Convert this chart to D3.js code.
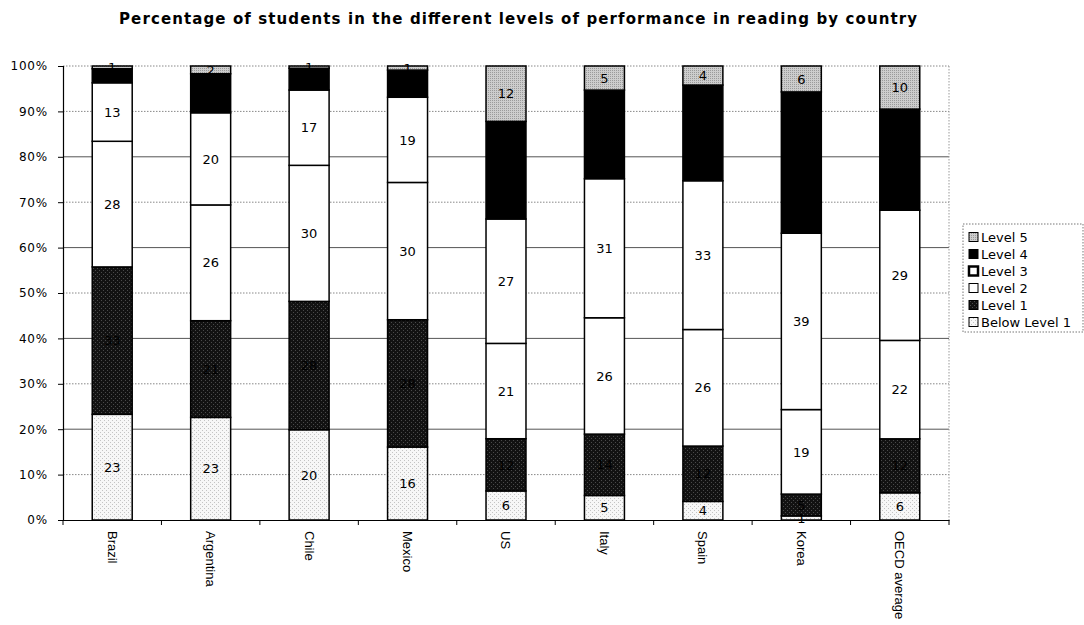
<!DOCTYPE html>
<html>
<head>
<meta charset="utf-8">
<script src="https://cdn.jsdelivr.net/npm/d3@7/dist/d3.min.js"></script>
<style>
  html, body { margin: 0; padding: 0; background: #fff; }
  svg { display: block; }
</style>
</head>
<body>
<svg id="chart" width="1084" height="625"></svg>
<script>
// Reading proficiency distribution (% of students per level)
const countries = ["Brazil", "Argentina", "Chile", "Mexico", "US", "Italy", "Spain", "Korea", "OECD average"];
const levels = ["Below Level 1", "Level 1", "Level 2", "Level 3", "Level 4", "Level 5"];
const belowLevel1 = [23.3, 22.6, 19.9, 16.1, 6.4, 5.4, 4.1, 0.9, 6.0];
const level1      = [32.5, 21.3, 28.3, 28.1, 11.5, 13.5, 12.2, 4.8, 11.9];
const level2      = [27.7, 25.5, 30.0, 30.3, 21.0, 25.6, 25.7, 18.6, 21.7];
const level3      = [12.9, 20.3, 16.6, 18.8, 27.4, 30.6, 32.8, 38.8, 28.7];
const level4      = [3.1, 8.6, 4.8, 6.0, 21.5, 19.5, 21.1, 31.1, 22.3];
const level5      = [0.6, 1.7, 0.5, 0.9, 12.2, 5.3, 4.2, 5.7, 9.5];
const yTicks = [0, 0.1, 0.2, 0.3, 0.4, 0.5, 0.6, 0.7, 0.8, 0.9, 1];
const title = "Percentage of students in the different levels of performance in reading by country";
// Black labels on the solid black Level 4 fill would not show, so they are left out
const labelledLevels = ["Below Level 1", "Level 1", "Level 2", "Level 3", "Level 5"];

const seriesValues = [belowLevel1, level1, level2, level3, level4, level5];
const table = countries.map((c, i) => {
  const row = { country: c };
  levels.forEach((l, j) => { row[l] = seriesValues[j][i]; });
  return row;
});

const svg = d3.select("#chart");
const defs = svg.append("defs");

// Stippled fills
function stipple(id, bg, dot, cells) {
  const p = defs.append("pattern").attr("id", id).attr("patternUnits", "userSpaceOnUse")
    .attr("width", 4).attr("height", 4);
  p.append("rect").attr("width", 4).attr("height", 4).attr("fill", bg);
  cells.forEach(([x, y]) => p.append("rect").attr("x", x).attr("y", y).attr("width", 1).attr("height", 1).attr("fill", dot));
}
stipple("patBelow", "#f7f7f7", "#c4c4c4", [[0, 0], [2, 2]]);
stipple("patL1", "#121212", "#4a4a4a", [[1, 0], [3, 2]]);
stipple("patL5", "#cdcdcd", "#9a9a9a", [[0, 0], [2, 2], [2, 0], [0, 2]]);

const fills = {
  "Below Level 1": "url(#patBelow)",
  "Level 1": "url(#patL1)",
  "Level 2": "#ffffff",
  "Level 3": "#ffffff",
  "Level 4": "#000000",
  "Level 5": "url(#patL5)"
};

const plot = { left: 63, right: 949, top: 66, bottom: 520 };

const x = d3.scaleBand().domain(countries).range([plot.left, plot.right])
  .paddingInner(0.594).paddingOuter(0.297);
const y = d3.scaleLinear().domain([0, 1]).range([plot.bottom, plot.top]);

// Title
svg.append("text")
  .attr("x", 518).attr("y", 24)
  .attr("text-anchor", "middle")
  .attr("font-family", "DejaVu Sans, sans-serif")
  .attr("font-weight", "bold")
  .attr("font-size", 15)
  .attr("textLength", 798)
  .attr("lengthAdjust", "spacing")
  .text(title);

// Gridlines
const grid = svg.append("g");
yTicks.filter(t => t > 0).forEach(t => {
  const solid = Math.round(t * 100) % 20 === 0 && t < 1;
  grid.append("line")
    .attr("x1", plot.left).attr("x2", plot.right)
    .attr("y1", y(t)).attr("y2", y(t))
    .attr("stroke", solid ? "#555" : "#888")
    .attr("stroke-width", 1)
    .attr("stroke-dasharray", solid ? null : "1.5,1.5");
});
grid.append("line")
  .attr("x1", plot.right).attr("x2", plot.right)
  .attr("y1", plot.top).attr("y2", plot.bottom)
  .attr("stroke", "#999").attr("stroke-dasharray", "1.5,1.5");

// Stacked bars
const stack = d3.stack().keys(levels).offset(d3.stackOffsetExpand);
const series = stack(table);

const fmt = d3.format(".0f");
const barG = svg.append("g");
series.forEach(s => {
  const g = barG.append("g");
  g.selectAll("rect").data(s).join("rect")
    .attr("x", d => x(d.data.country))
    .attr("y", d => y(d[1]))
    .attr("width", x.bandwidth())
    .attr("height", d => y(d[0]) - y(d[1]))
    .attr("fill", fills[s.key])
    .attr("stroke", "#000")
    .attr("stroke-width", 1.5);
});
series.filter(s => labelledLevels.includes(s.key)).forEach(s => {
  barG.append("g").selectAll("text").data(s).join("text")
    .attr("x", d => x(d.data.country) + x.bandwidth() / 2)
    .attr("y", d => (y(d[0]) + y(d[1])) / 2)
    .attr("dy", "0.36em")
    .attr("text-anchor", "middle")
    .attr("font-family", "DejaVu Sans, sans-serif")
    .attr("font-size", 13)
    .attr("fill", "#000")
    .text(d => fmt(d.data[s.key]));
});

// Y axis
const yAxis = svg.append("g").attr("transform", `translate(${plot.left},0)`)
  .call(d3.axisLeft(y).tickValues(yTicks).tickFormat(d3.format(".0%")).tickSize(5).tickPadding(10));
yAxis.select(".domain").attr("stroke", "#000").attr("stroke-width", 1.2);
yAxis.selectAll(".tick line").attr("stroke", "#000");
yAxis.selectAll("text")
  .attr("font-family", "DejaVu Sans, sans-serif")
  .attr("font-size", 12)
  .attr("letter-spacing", 0.8)
  .attr("fill", "#000");

// X axis
const xAxis = svg.append("g").attr("transform", `translate(0,${plot.bottom})`)
  .call(d3.axisBottom(x).tickSize(0).tickPadding(0));
xAxis.select(".domain").attr("stroke", "#000").attr("stroke-width", 1.2);
xAxis.selectAll(".tick text")
  .attr("transform", "translate(0,11) rotate(90)")
  .attr("x", 0).attr("y", 0).attr("dy", "0.35em")
  .attr("text-anchor", "start")
  .attr("font-family", "Liberation Sans, Arial, sans-serif")
  .attr("font-size", 13)
  .attr("fill", "#000");
// Category separator ticks
xAxis.append("g").selectAll("line").data(d3.range(countries.length + 1)).join("line")
  .attr("x1", i => plot.left + i * x.step())
  .attr("x2", i => plot.left + i * x.step())
  .attr("y1", 0).attr("y2", 5)
  .attr("stroke", "#000");

// Legend
const legend = svg.append("g").attr("transform", "translate(963,224)");
legend.append("rect").attr("width", 120).attr("height", 108)
  .attr("fill", "#fff").attr("stroke", "#777").attr("stroke-dasharray", "1.5,1.5");
levels.slice().reverse().forEach((l, i) => {
  const row = legend.append("g").attr("transform", `translate(6,${13 + i * 17})`);
  row.append("rect").attr("x", 0).attr("y", -4.5).attr("width", 9).attr("height", 9)
    .attr("fill", fills[l]).attr("stroke", "#000")
    .attr("stroke-width", l === "Level 3" ? 2.5 : 1);
  row.append("text").attr("x", 12).attr("y", 0).attr("dy", "0.36em")
    .attr("font-family", "DejaVu Sans, sans-serif").attr("font-size", 13)
    .attr("fill", "#000").text(l);
});
</script>
</body>
</html>
